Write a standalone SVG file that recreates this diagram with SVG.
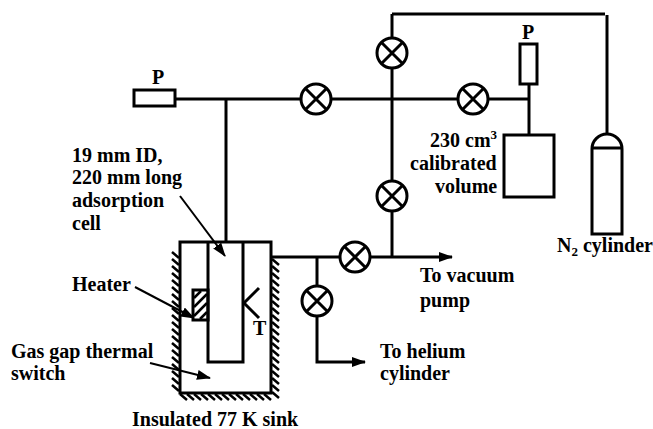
<svg xmlns="http://www.w3.org/2000/svg" width="653" height="429" viewBox="0 0 653 429">
<defs>
<marker id="ah" viewBox="0 0 14 10" refX="13" refY="5" markerWidth="14" markerHeight="10" markerUnits="userSpaceOnUse" orient="auto"><path d="M0 0L14 5L0 10z" fill="#000"/></marker>
<g id="v"><circle r="15" fill="#fff" stroke="#000" stroke-width="3"/><path d="M-10.500 -10.500L10.500 10.500M-10.500 10.500L10.500 -10.500" stroke="#000" stroke-width="3" fill="none"/></g>
</defs>
<style>
text{font-family:"Liberation Serif","Times New Roman",serif;font-weight:bold;font-size:20px;fill:#000}
.l{fill:none;stroke:#000;stroke-width:3}
.n{fill:none;stroke:#000;stroke-width:2}
.b{fill:#fff;stroke:#000;stroke-width:3}
</style>
<rect width="653" height="429" fill="#fff"/>
<g id="connectors">
<path class="l" d="M176 99H530"/>
<path class="l" d="M392 14H605"/>
<path class="l" d="M392 14V257"/>
<path class="l" d="M607 15V134"/>
<path class="l" d="M529 84V135"/>
<path class="l" d="M226 99V242"/>
<path class="l" d="M271 257H392"/>
<path class="l" d="M392 257H452" marker-end="url(#ah)"/>
<path class="l" d="M317 257V362H365" marker-end="url(#ah)"/>
<path class="n" d="M180 196L225 256" marker-end="url(#ah)"/>
<path class="n" d="M135 287L194 318" marker-end="url(#ah)"/>
<path class="n" d="M150 363L210 378" marker-end="url(#ah)"/>
</g>
<g id="sink">
<path stroke="#000" stroke-width="2.500" fill="none" d="M179 258l-7 -6M179 265l-7 -6M179 272l-7 -6M179 279l-7 -6M179 286l-7 -6M179 293l-7 -6M179 300l-7 -6M179 307l-7 -6M179 314l-7 -6M179 321l-7 -6M179 328l-7 -6M179 335l-7 -6M179 342l-7 -6M179 349l-7 -6M179 356l-7 -6M179 363l-7 -6M179 370l-7 -6M179 377l-7 -6M179 384l-7 -6M179 391l-7 -6
M272 259l7 6M272 266l7 6M272 273l7 6M272 280l7 6M272 287l7 6M272 294l7 6M272 301l7 6M272 308l7 6M272 315l7 6M272 322l7 6M272 329l7 6M272 336l7 6M272 343l7 6M272 350l7 6M272 357l7 6M272 364l7 6M272 371l7 6M272 378l7 6M272 385l7 6M272 392l7 6
M180 394l7 6M187 394l7 6M194 394l7 6M201 394l7 6M208 394l7 6M215 394l7 6M222 394l7 6M229 394l7 6M236 394l7 6M243 394l7 6M250 394l7 6M257 394l7 6M264 394l7 6"/>
</g>
<g id="gas-gap"><rect class="l" x="180" y="242" width="91" height="151"/></g>
<g id="heater"><rect x="193" y="290" width="15" height="30" fill="#fff" stroke="#000" stroke-width="3"/>
<path stroke="#000" stroke-width="2.500" d="M194 298L201 291M194 307L207 294M194 316L207 303M200 319L207 312"/></g>
<g id="cell"><path class="l" d="M208 242V362H243V242"/></g>
<g id="thermocouple"><path class="l" d="M259 288L244 303L259 318"/><text x="253" y="335">T</text></g>
<g id="p-left"><rect class="b" x="134" y="90" width="41" height="16"/><text x="152" y="84">P</text></g>
<g id="p-right"><rect class="b" x="520" y="44" width="17" height="40"/><text x="522" y="39">P</text></g>
<g id="volume"><rect class="b" x="504" y="135" width="50" height="62"/></g>
<g id="cylinder"><path class="b" d="M592 149A15 15 0 0 1 622 149V234H592Z"/><path class="l" d="M592 148H622"/></g>
<g id="valve1"><use href="#v" x="316" y="99"/></g>
<g id="valve2"><use href="#v" x="473" y="99"/></g>
<g id="valve3"><use href="#v" x="392" y="53"/></g>
<g id="valve4"><use href="#v" x="392" y="196"/></g>
<g id="valve5"><use href="#v" x="355" y="257"/></g>
<g id="valve6"><use href="#v" x="317" y="301"/></g>
<g id="labels">
<text x="72" y="162">19 mm ID,</text>
<text x="72" y="184">220 mm long</text>
<text x="72" y="207">adsorption</text>
<text x="72" y="230">cell</text>
<text x="72" y="291">Heater</text>
<text x="11" y="358">Gas gap thermal</text>
<text x="11" y="380">switch</text>
<text x="132" y="426">Insulated 77 K sink</text>
<text x="430" y="147">230 cm<tspan font-size="13" dy="-8">3</tspan></text>
<text x="410" y="170">calibrated</text>
<text x="435" y="193">volume</text>
<text x="557" y="252">N<tspan font-size="13" dy="4">2</tspan><tspan dy="-4"> cylinder</tspan></text>
<text x="420" y="282">To vacuum</text>
<text x="420" y="307">pump</text>
<text x="380" y="358">To helium</text>
<text x="380" y="380">cylinder</text>
</g>
</svg>
